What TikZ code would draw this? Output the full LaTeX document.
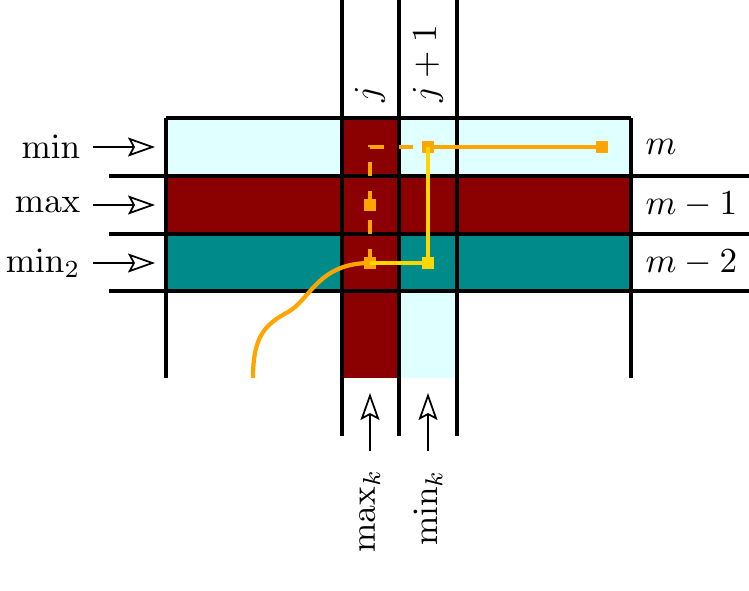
\documentclass[tikz,border=0pt]{standalone}
\usetikzlibrary{arrows.meta}
\definecolor{lcyan}{HTML}{E0FFFF}
\definecolor{dred}{HTML}{8B0000}
\definecolor{dteal}{HTML}{008B8B}
\definecolor{orng}{HTML}{FFA500}
\definecolor{gld}{HTML}{FFD700}
\begin{document}
\begin{tikzpicture}[x=0.1mm,y=-0.1mm,
  gridline/.style={black,line width=1.1pt},
  lbl/.style={inner sep=0pt},
  pointer/.style={-{Stealth[open,length=2.7mm,width=1.9mm,inset=0.5mm]},line width=0.5pt},
  sq/.style={rectangle,inner sep=0pt,minimum size=1.25mm,fill=#1},
  opath/.style={orng,line width=1.2pt},
  gpath/.style={gld,line width=1.2pt}]
\useasboundingbox (0,0) rectangle (749,591);
% fills
\fill[lcyan] (166,118) rectangle (631,176);
\fill[dred] (166,176) rectangle (631,234);
\fill[dteal] (166,234) rectangle (631,291);
\fill[dred] (342,118) rectangle (399,378);
\fill[lcyan] (399,291) rectangle (457,378);
% grid
\draw[gridline] (166,118) -- (631,118);
\foreach \yy in {176,234,291} \draw[gridline] (109,\yy) -- (749,\yy);
\draw[gridline] (166,118) -- (166,378);
\draw[gridline] (631,118) -- (631,378);
\foreach \xx in {342,399,457} \draw[gridline] (\xx,0) -- (\xx,436);
% left labels
\node[lbl,anchor=east] (lmin) at (81,147) {$\min$};
\node[lbl,anchor=east] (lmax) at (81,205) {$\max$};
\node[lbl,anchor=east] (lmintwo) at (81,263) {$\min_2$};
\coordinate (tmin) at (155,147);
\coordinate (tmax) at (155,205);
\coordinate (tmintwo) at (155,263);
\draw[pointer] ([xshift=1.2mm]lmin.east) -- (tmin);
\draw[pointer] ([xshift=1.2mm]lmax.east) -- (tmax);
\draw[pointer] ([xshift=1.2mm]lmintwo.east) -- (tmintwo);
% right labels
\node[lbl,anchor=west] (rm) at (645,147) {$m$};
\node[lbl,anchor=west] (rmone) at (645,205) {$m-1$};
\node[lbl,anchor=west] (rmtwo) at (645,263) {$m-2$};
% top labels
\node[lbl,anchor=west,rotate=90] (cj) at (370,103) {$j$};
\node[lbl,anchor=west,rotate=90] (cjone) at (428,103) {$j+1$};
% bottom labels
\node[lbl,anchor=east,rotate=90] (bmax) at (370,469) {$\max_k$};
\node[lbl,anchor=east,rotate=90] (bmin) at (428,469) {$\min_k$};
\coordinate (smax) at (370,451);
\coordinate (smin) at (428,451);
\coordinate (emax) at (370,393);
\coordinate (emin) at (428,393);
\draw[pointer] (smax) -- (emax);
\draw[pointer] (smin) -- (emin);
% path squares positions
\coordinate (a) at (602,147);
\coordinate (b) at (428,147);
\coordinate (c) at (370,205);
\coordinate (d) at (370,263);
\coordinate (e) at (428,263);
\coordinate (f) at (370,147);
\coordinate (g) at (253,378);
% orange paths
\draw[opath,dash pattern=on 1.45mm off 1.45mm] (d) -- (f) -- (b);
\draw[opath] (b) -- (a);
\draw[opath] (g) .. controls (253,335) and (266,324) .. (288,312)
  .. controls (310,300) and (318,263) .. (d);
\node[sq=orng] (sa) at (a) {};
\node[sq=orng] (sb) at (b) {};
\node[sq=orng] (sc) at (c) {};
\node[sq=orng] (sd) at (d) {};
% gold path
\draw[gpath] (sb.center) -- (e) -- (sd.center);
\node[sq=gld] (se) at (e) {};
\end{tikzpicture}
\end{document}
